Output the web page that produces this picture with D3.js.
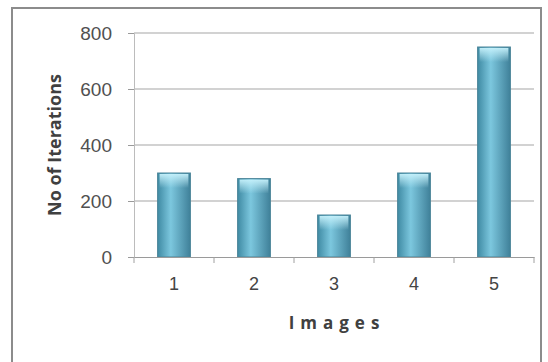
<!DOCTYPE html>
<html>
<head>
  <meta charset="utf-8">
  <script src="https://d3js.org/d3.v7.min.js"></script>
  <style>
    body { margin: 0; background: #fff; }
    svg { display: block; font-family: "Open Sans", Lato, sans-serif; }
  </style>
</head>
<body>
<script>
  // chart values
  var images = ["1", "2", "3", "4", "5"];
  var iterations = [300, 280, 150, 300, 750];
  var yTicks = [0, 200, 400, 600, 800];

  var width = 548, height = 362;
  var margin = {top: 33, right: 14, bottom: 105, left: 134};

  var svg = d3.select("body").append("svg")
      .attr("width", width)
      .attr("height", height);

  // outer chart frame
  svg.append("rect")
    .attr("x", 12).attr("y", 8)
    .attr("width", 529).attr("height", 364)
    .style("fill", "none")
    .style("stroke", "#8c8c8c")
    .style("stroke-width", 2);

  var defs = svg.append("defs");
  var grad = defs.append("linearGradient").attr("id", "barGrad")
      .attr("x1", "0%").attr("x2", "100%").attr("y1", "0%").attr("y2", "0%");
  grad.append("stop").attr("offset", "0%").attr("stop-color", "#3f8aa3");
  grad.append("stop").attr("offset", "40%").attr("stop-color", "#7cc7de");
  grad.append("stop").attr("offset", "100%").attr("stop-color", "#3f8099");

  var cap = defs.append("linearGradient").attr("id", "capGrad")
      .attr("x1", "0%").attr("x2", "0%").attr("y1", "0%").attr("y2", "100%");
  cap.append("stop").attr("offset", "0%").attr("stop-color", "#c6f1fb").attr("stop-opacity", 0.95);
  cap.append("stop").attr("offset", "100%").attr("stop-color", "#c6f1fb").attr("stop-opacity", 0);

  var x = d3.scaleBand()
      .domain(images)
      .range([margin.left, width - margin.right])
      .paddingInner(0.59).paddingOuter(0.295);

  var y = d3.scaleLinear()
      .domain([0, 800])
      .range([height - margin.bottom, margin.top]);

  // gridlines
  svg.append("g")
    .selectAll("line")
    .data(yTicks.slice(1))
    .enter().append("line")
      .attr("x1", margin.left).attr("x2", width - margin.right)
      .attr("y1", function (d) { return y(d); })
      .attr("y2", function (d) { return y(d); })
      .style("stroke", "#a6a6a6")
      .style("stroke-width", 1.2);

  // y axis
  var yAxis = svg.append("g")
      .attr("transform", "translate(" + margin.left + ",0)")
      .call(d3.axisLeft(y).tickValues(yTicks).tickSize(6).tickPadding(16));
  yAxis.select(".domain").style("stroke", "#bcbcbc");
  yAxis.selectAll(".tick line").style("stroke", "#9a9a9a");
  yAxis.selectAll("text")
    .style("font-size", "19px")
    .style("fill", "#505050");

  // bars
  svg.append("g")
    .selectAll("rect")
    .data(iterations)
    .enter().append("rect")
      .attr("x", function (d, i) { return x(images[i]); })
      .attr("y", function (d) { return y(d); })
      .attr("width", x.bandwidth())
      .attr("height", function (d) { return y(0) - y(d); })
      .style("fill", "url(#barGrad)")
      .style("stroke", "#4c8599")
      .style("stroke-width", 1);

  svg.append("g")
    .selectAll("rect")
    .data(iterations)
    .enter().append("rect")
      .attr("x", function (d, i) { return x(images[i]) + 2; })
      .attr("y", function (d) { return y(d) + 1; })
      .attr("width", x.bandwidth() - 4)
      .attr("height", 14)
      .style("fill", "url(#capGrad)");

  // x axis with ticks between categories
  var xAxis = svg.append("g")
      .attr("transform", "translate(0," + y(0) + ")")
      .call(d3.axisBottom(x).tickSize(0).tickPadding(20));
  xAxis.select(".domain").style("stroke", "#9a9a9a");
  xAxis.selectAll("text")
    .style("font-size", "18px")
    .style("fill", "#444");

  var step = x.step();
  var bounds = d3.range(images.length + 1).map(function (i) {
    return margin.left + i * step;
  });
  xAxis.selectAll(".sep")
    .data(bounds)
    .enter().append("line")
      .attr("class", "sep")
      .attr("x1", function (d) { return d; })
      .attr("x2", function (d) { return d; })
      .attr("y1", 0).attr("y2", 6)
      .style("stroke", "#a0a0a0");

  // axis titles
  svg.append("text")
    .attr("x", (margin.left + width - margin.right) / 2 + 3)
    .attr("y", 329)
    .attr("text-anchor", "middle")
    .style("font-size", "17px")
    .style("font-weight", "bold")
    .style("letter-spacing", "6px")
    .style("fill", "#404040")
    .text("Images");

  svg.append("text")
    .attr("transform", "translate(61," + (y(400)) + ") rotate(-90)")
    .attr("text-anchor", "middle")
    .style("font-size", "18px")
    .style("font-weight", "bold")
    .style("fill", "#404040")
    .text("No of Iterations");
</script>
</body>
</html>
